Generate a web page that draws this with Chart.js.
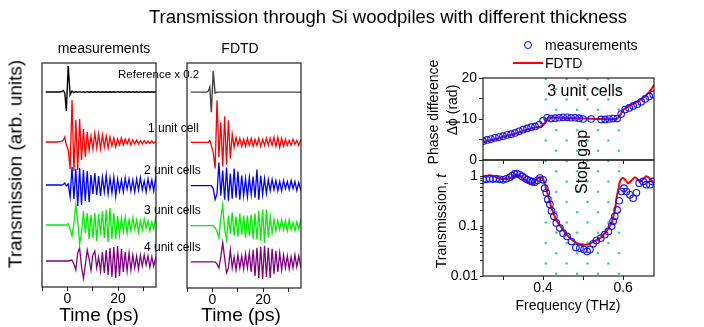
<!DOCTYPE html>
<html><head><meta charset="utf-8">
<script src="https://cdn.jsdelivr.net/npm/chart.js@4.4.1/dist/chart.umd.min.js"></script>
<style>
html,body{margin:0;padding:0;background:#fff;width:704px;height:327px;overflow:hidden;font-family:"Liberation Sans",Arial,sans-serif;}
canvas{position:absolute;left:0;top:0;}
.t{position:absolute;white-space:nowrap;color:#000;line-height:1;z-index:10;}
.c{transform:translate(-50%,-50%);}
.l{transform:translate(0,-50%);}
.r{transform:translate(-50%,-50%) rotate(-90deg);}
</style></head><body>
<div class="t c" style="left:388px;top:17px;font-size:18.5px;">Transmission through Si woodpiles with different thickness</div>
<div class="t c" style="left:104px;top:48px;font-size:14px;">measurements</div>
<div class="t c" style="left:240px;top:48px;font-size:14px;">FDTD</div>
<div class="t r" style="left:15px;top:164px;font-size:19px;">Transmission (arb. units)</div>
<div class="t c" style="left:99px;top:314px;font-size:19px;">Time (ps)</div>
<div class="t c" style="left:241px;top:314px;font-size:19px;">Time (ps)</div>
<div class="t l" style="left:118px;top:75px;font-size:11.5px;">Reference x 0.2</div>
<div class="t l" style="left:148px;top:128px;font-size:12px;">1 unit cell</div>
<div class="t l" style="left:144px;top:170px;font-size:12px;">2 unit cells</div>
<div class="t l" style="left:144px;top:210px;font-size:12px;">3 unit cells</div>
<div class="t l" style="left:144px;top:247px;font-size:12px;">4 unit cells</div>

<div class="t" style="left:524px;top:41px;width:6px;height:6px;border:1.2px solid #0000ff;border-radius:50%;"></div>
<div class="t l" style="left:545px;top:45px;font-size:14px;">measurements</div>
<div class="t" style="left:513px;top:62px;width:30px;height:2px;background:#ff0000;"></div>
<div class="t l" style="left:545px;top:63px;font-size:14px;">FDTD</div>
<div class="t c" style="left:585px;top:91px;font-size:16px;">3 unit cells</div>
<div class="t r" style="left:582px;top:162px;font-size:16px;">Stop gap</div>
<div class="t r" style="left:433px;top:112px;font-size:14px;">Phase difference</div>
<div class="t r" style="left:452px;top:110px;font-size:14px;">&Delta;&#981; (rad)</div>
<div class="t r" style="left:441px;top:221px;font-size:14px;">Transmission, <i>t</i></div>
<div class="t c" style="left:568px;top:305px;font-size:14px;">Frequency (THz)</div>

<script>
// ---------------- time-domain data (arb. units) ----------------
const TIME = [-8.5,-6,-4,-3,-2.2,-1.6,-1.0,
  -0.4,0.35,1.1,1.85,2.6,3.35,4.1,4.85,5.6,6.35,
  7.1,7.85,8.6,9.35,10.1,10.85,11.6,12.35,13.1,13.85,
  14.6,15.35,16.1,16.85,17.6,18.35,19.1,19.85,20.6,21.35,
  22.1,22.85,23.6,24.35,25.1,25.85,26.6,27.35,28.1,28.85,
  29.6,30.35,31.1,31.85,32.6,33.35,34.1,34.85,35.6];
const TRACE_BASE = [195, 145, 102, 62, 26]; // vertical offsets of stacked traces
const TRACE_COLORS = ['#000000', '#ff0000', '#0000ff', '#00ee00', '#800080'];

const MEAS_REF = [0,0,0,0,0.5,1.5,-1,
  -19,26,-3,1,-0.6,0.4,-0.3,0.3,-0.3,0.2,
  -0.3,0.3,-0.2,0.3,-0.2,0.2,-0.3,0.2,-0.2,0.3,
  -0.2,0.2,-0.3,0.2,-0.2,0.2,-0.3,0.3,-0.2,0.2,
  -0.2,0.3,-0.2,0.2,-0.3,0.2,-0.2,0.3,-0.2,0.2,
  -0.3,0.2,-0.2,0.3,-0.2,0.2,-0.3,0.2,0];
const MEAS_1CELL = [0,0,0,0.3,0.5,2,5,
  -3,-8,-27,42,-29,22,-28,23,-18,13,
  -15,10,-8,6,-7,9,-6,8,-7,7,
  -5,6,-6,5,-4,4,-5,3,-3,4,
  -3,3,-2,3,-3,2,-2,2,-2,1.5,
  -2,1.5,-1.5,1,-1.5,1,-1,0.5,0];
const MEAS_2CELL = [0,0,0,0,0,0.5,2,
  -1,1,-12,18,-14,16,-21,17,-20,15,
  -16,14,-17,10,-9,12,-10,9,-11,8,
  -7,10,-9,7,-8,8,-11,6,-6,5,
  -7,7,-4,6,-6,5,-7,6,-5,7,
  -5,4,-7,6,-4,5,-6,7,-4];
const MEAS_3CELL = [0,0,0,0,0,0,0,
  0,1.5,-4,-11,2,20,4,-19,-8,14,
  -8,12,-14,10,-13,12,-16,11,-10,14,
  -13,15,-17,17,-14,12,-14,9,-10,7,
  -6,8,-8,5,-6,7,-4,5,-7,4,
  -5,6,-3,4,-6,3,-4,7,-3];
const MEAS_4CELL = [0,0,0,0,0,0,0,
  0,0,0.5,1,-3,-9,8,13,-6,-17,
  -4,11,2,-9,6,10,-7,4,-10,9,
  -12,11,-14,13,-16,14,-17,15,-15,12,
  -11,9,-10,8,-9,6,-7,5,-8,6,
  -5,6,-4,5,-6,4,-5,3,-2];

const FDTD_REF = [0,0,0,0,0,1,5,
  -20,21,-1,0,0,0,0,0,0,0,
  0,0,0,0,0,0,0,0,0,0,
  0,0,0,0,0,0,0,0,0,0,
  0,0,0,0,0,0,0,0,0,0,
  0,0,0,0,0,0,0,0,0];
const FDTD_1CELL = [0,0,0,0,0,0,2,
  -3,-10,-26,42,-15,20,-24,26,-22,22,
  -16,8,-5,5,-3,4,-4,3,-4,4,
  -3,4,-4,3,-3,4,-4,3,-3,4,
  -3,4,-3,5,-4,5,-5,4,-4,3,
  -3,2,-3,3,-2,2,-3,2,-1];
const FDTD_2CELL = [0,0,0,0,0,0,0,
  0,-3,-14,-8,23,-10,15,-14,18,-15,
  12,-13,17,-12,14,-14,10,-10,7,-11,
  8,-9,9,-12,16,-14,10,-9,7,-8,
  6,-5,6,-4,5,-5,4,-5,5,-3,
  4,-4,5,-3,4,-5,3,-4,2];
const FDTD_3CELL = [0,0,0,0,0,0,0,
  0,0,-2,-6,-12,8,21,-4,-14,10,
  -8,13,-10,9,-11,12,-9,10,-12,10,
  -10,11,-13,12,-14,15,-15,16,-17,16,
  -12,9,-7,6,-5,5,-4,6,-4,5,
  -5,6,-4,3,-5,4,-3,5,-2];
const FDTD_4CELL = [0,0,0,0,0,0,0,
  0,0,0,-2,-6,5,19,4,-11,-6,
  12,-6,5,-8,7,-6,6,-7,8,-6,
  9,-10,12,-14,14,-16,15,-17,16,-15,
  14,-16,13,-12,11,-10,9,-8,7,-6,
  6,-7,5,-6,7,-5,6,-4,3];

const TIME_TICKS = [-10, 0, 10, 20, 30];
const TIME_TICK_LABELS = ['', '0', '', '20', ''];

// ---------------- frequency-domain data ----------------
const PH_MEAS_F = [0.25,0.26,0.27,0.28,0.29,0.30,0.31,0.32,0.33,0.34,0.35,0.36,0.37,0.38,0.39,0.40,0.41,0.42,0.43,0.44,0.45,0.46,0.47,0.48,0.49,0.50,0.52,0.545,0.555,0.565,0.575,0.585,0.595,0.605,0.615,0.625,0.635,0.645,0.655,0.665,0.675];
const PH_MEAS = [4.6,4.9,5.1,5.4,5.6,5.8,6.1,6.3,6.6,7.0,7.4,7.7,8.0,8.2,8.6,9.6,10.3,10.1,10.2,10.3,10.4,10.4,10.3,10.3,10.2,10.0,10.0,9.9,9.9,10.0,10.1,10.1,11.2,12.3,12.7,13.2,13.6,14.2,14.9,15.5,16.0];
const PH_FDTD_F = [0.25,0.27,0.29,0.31,0.33,0.35,0.37,0.385,0.395,0.40,0.405,0.41,0.415,0.43,0.45,0.48,0.51,0.54,0.57,0.585,0.593,0.60,0.612,0.622,0.633,0.642,0.65,0.66,0.668,0.677];
const PH_FDTD = [4.4,4.9,5.4,5.9,6.4,7.1,7.7,8.0,8.2,8.5,9.2,10.0,10.3,10.3,10.3,10.2,10.1,10.0,10.0,10.1,11.0,12.2,13.0,13.5,14.1,14.6,15.2,16.0,16.9,18.3];
const PH_TICKS = [0, 5, 10, 15, 20];
const PH_TICK_LABELS = ['0', '', '10', '', '20'];

const TR_MEAS_F = [0.25,0.258,0.267,0.275,0.283,0.292,0.300,0.308,0.317,0.323,0.329,0.335,0.342,0.348,0.354,0.360,0.367,0.373,0.379,0.386,0.392,0.400,0.404,0.408,0.412,0.417,0.421,0.427,0.433,0.442,0.450,0.460,0.471,0.482,0.492,0.502,0.510,0.517,0.525,0.533,0.544,0.554,0.563,0.571,0.575,0.579,0.585,0.590,0.596,0.602,0.608,0.617,0.625,0.633,0.640,0.650,0.658,0.667,0.673];
const TR_MEAS = [0.84,0.86,0.88,0.87,0.88,0.86,0.84,0.88,0.94,1.02,1.10,1.12,1.06,0.98,0.91,0.85,0.80,0.77,0.75,0.82,0.91,0.84,0.57,0.46,0.34,0.27,0.20,0.156,0.115,0.091,0.072,0.062,0.049,0.037,0.036,0.034,0.031,0.034,0.044,0.051,0.057,0.067,0.078,0.099,0.124,0.156,0.21,0.32,0.49,0.57,0.49,0.42,0.36,0.46,0.72,0.78,0.67,0.67,0.78];
const TR_FDTD_F = [0.25,0.258,0.267,0.280,0.292,0.305,0.317,0.325,0.333,0.342,0.350,0.358,0.367,0.373,0.379,0.386,0.392,0.398,0.404,0.408,0.412,0.417,0.421,0.427,0.433,0.442,0.450,0.458,0.467,0.475,0.483,0.494,0.504,0.515,0.525,0.533,0.542,0.550,0.558,0.565,0.571,0.575,0.579,0.582,0.585,0.589,0.592,0.596,0.600,0.606,0.612,0.620,0.629,0.636,0.642,0.650,0.658,0.667,0.677];
const TR_FDTD = [0.99,1.01,1.03,0.97,0.88,0.87,0.91,0.98,1.06,1.02,0.91,0.80,0.72,0.70,0.78,0.88,0.94,0.90,0.72,0.55,0.42,0.31,0.23,0.17,0.13,0.103,0.084,0.069,0.057,0.051,0.046,0.043,0.042,0.044,0.048,0.052,0.057,0.066,0.078,0.095,0.115,0.15,0.20,0.29,0.42,0.60,0.78,0.88,0.91,0.82,0.72,0.80,0.94,0.86,0.76,0.86,0.99,0.88,0.72];
const TR_MAJOR = [0.01, 0.1, 1];
const FREQ_TICKS = [0.3, 0.4, 0.5, 0.6];
const FREQ_TICK_LABELS = ['', '0.4', '', '0.6'];
const STOP_GAP = [0.4068, 0.5893]; // THz, first/last dotted column

// ---------------- helpers ----------------
const FONT = '"Liberation Sans", Arial, sans-serif';
Chart.defaults.font.family = FONT;
Chart.defaults.color = '#000';
Chart.defaults.animation = false;

function makeCanvas(z) {
  const c = document.createElement('canvas');
  c.width = 704; c.height = 327;
  c.style.zIndex = z;
  document.body.appendChild(c);
  return c.getContext('2d');
}
const boxPlugin = {
  id: 'box',
  afterDatasetsDraw(chart) {
    const a = chart.chartArea, ctx = chart.ctx;
    ctx.save();
    ctx.strokeStyle = '#222';
    ctx.lineWidth = 1.2;
    ctx.strokeRect(a.left, a.top, a.right - a.left, a.bottom - a.top);
    ctx.restore();
  }
};
function wave(vals, base) { return TIME.map((t, i) => ({ x: t, y: base + vals[i] })); }

function timePanel(ctx, series, pad, refColor) {
  const ds = series.map((vals, k) => ({
    data: wave(vals, TRACE_BASE[k]),
    borderColor: k === 0 ? refColor : TRACE_COLORS[k],
    borderWidth: k === 0 ? 1.4 : 1.3,
    pointRadius: 0, tension: 0, fill: false
  }));
  return new Chart(ctx, {
    type: 'line',
    data: { datasets: ds },
    options: {
      responsive: false, animation: false,
      layout: { padding: pad },
      plugins: { legend: { display: false }, tooltip: { enabled: false } },
      scales: {
        x: {
          type: 'linear', min: -10, max: 35,
          afterBuildTicks: s => { s.ticks = TIME_TICKS.map(v => ({ value: v })); },
          afterFit: s => { s.height = 30; },
          ticks: { autoSkip: false, maxRotation: 0, padding: 0, font: { size: 14 }, color: '#000',
            callback: (v) => { const i = TIME_TICKS.indexOf(v); return i >= 0 ? TIME_TICK_LABELS[i] : ''; } },
          grid: { display: true, drawOnChartArea: false, drawTicks: true, tickLength: 4, color: '#222' },
          border: { display: false }
        },
        y: { type: 'linear', min: 0, max: 224, display: false }
      }
    },
    plugins: [boxPlugin]
  });
}

// ---------------- time panels ----------------
timePanel(makeCanvas(1), [MEAS_REF, MEAS_1CELL, MEAS_2CELL, MEAS_3CELL, MEAS_4CELL],
  { left: 42, right: 548, top: 63, bottom: 10 }, '#000000');
timePanel(makeCanvas(1), [FDTD_REF, FDTD_1CELL, FDTD_2CELL, FDTD_3CELL, FDTD_4CELL],
  { left: 187, right: 403, top: 63, bottom: 9 }, '#444444');

// ---------------- phase panel ----------------
const xy = (xs, ys) => xs.map((x, i) => ({ x: x, y: ys[i] }));
const measStyle = { showLine: false, pointRadius: 3.3, pointBorderWidth: 1.1, pointBorderColor: '#1010ff',
  pointBackgroundColor: 'rgba(0,0,0,0)', borderColor: '#1010ff', pointStyle: 'circle' };
const fdtdStyle = { borderColor: '#ff0000', borderWidth: 2, pointRadius: 0, tension: 0.3, fill: false };

const phaseChart = new Chart(makeCanvas(3), {
  type: 'line',
  data: { datasets: [
    Object.assign({ data: xy(PH_MEAS_F, PH_MEAS) }, measStyle),
    Object.assign({ data: xy(PH_FDTD_F, PH_FDTD) }, fdtdStyle)
  ] },
  options: {
    responsive: false, animation: false,
    layout: { padding: { left: 443, right: 50, top: 78, bottom: 167 } },
    plugins: { legend: { display: false }, tooltip: { enabled: false } },
    scales: {
      x: { type: 'linear', min: 0.25, max: 0.677,
        afterBuildTicks: s => { s.ticks = FREQ_TICKS.map(v => ({ value: v })); },
        afterFit: s => { s.height = 0; },
        ticks: { display: false },
        grid: { display: true, drawOnChartArea: false, drawTicks: true, tickLength: 4, color: '#222' },
        border: { display: false } },
      y: { type: 'linear', min: 0, max: 20,
        afterBuildTicks: s => { s.ticks = PH_TICKS.map(v => ({ value: v })); },
        afterFit: s => { s.width = 40; },
        ticks: { padding: 2, font: { size: 14 }, color: '#000',
          callback: v => { const i = PH_TICKS.indexOf(v); return i >= 0 ? PH_TICK_LABELS[i] : ''; } },
        grid: { display: true, drawOnChartArea: false, drawTicks: true, tickLength: 4, color: '#222' },
        border: { display: false } }
    }
  },
  plugins: [boxPlugin]
});

// ---------------- transmission panel ----------------
const dotPlugin = {
  id: 'dots',
  beforeDatasetsDraw(chart) {
    const xs = chart.scales.x, ctx = chart.ctx;
    const top = phaseChart.chartArea.top + 1, bottom = chart.chartArea.bottom - 1;
    const x0 = xs.getPixelForValue(STOP_GAP[0]), x1 = xs.getPixelForValue(STOP_GAP[1]);
    const ncol = 8, dx = (x1 - x0) / (ncol - 1), dy = 10.25;
    ctx.save();
    ctx.fillStyle = 'rgba(40,200,165,0.9)';
    let row = 0;
    for (let y = top; y <= bottom; y += dy, row++) {
      for (let c = row % 2; c < ncol; c += 2) {
        ctx.beginPath();
        ctx.arc(x0 + c * dx, y, 1.3, 0, Math.PI * 2);
        ctx.fill();
      }
    }
    ctx.restore();
  }
};
const trTicks = [];
TR_MAJOR.forEach(m => { for (let k = 1; k <= 9; k++) { const v = +(m * k).toPrecision(2); if (v <= 2) trTicks.push(v); } });

new Chart(makeCanvas(2), {
  type: 'line',
  data: { datasets: [
    Object.assign({ data: xy(TR_MEAS_F, TR_MEAS) }, measStyle),
    Object.assign({ data: xy(TR_FDTD_F, TR_FDTD) }, fdtdStyle)
  ] },
  options: {
    responsive: false, animation: false,
    layout: { padding: { left: 443, right: 50, top: 160, bottom: 21 } },
    plugins: { legend: { display: false }, tooltip: { enabled: false } },
    scales: {
      x: { type: 'linear', min: 0.25, max: 0.677,
        afterBuildTicks: s => { s.ticks = FREQ_TICKS.map(v => ({ value: v })); },
        afterFit: s => { s.height = 30; },
        ticks: { autoSkip: false, maxRotation: 0, padding: 0, font: { size: 14 }, color: '#000',
          callback: v => { const i = FREQ_TICKS.indexOf(v); return i >= 0 ? FREQ_TICK_LABELS[i] : ''; } },
        grid: { display: true, drawOnChartArea: false, drawTicks: true, tickLength: 4, color: '#222' },
        border: { display: false } },
      y: { type: 'logarithmic', min: 0.01, max: 2.09,
        afterBuildTicks: s => { s.ticks = trTicks.map(v => ({ value: v })); },
        afterFit: s => { s.width = 40; },
        ticks: { autoSkip: false, padding: 2, font: { size: 14 }, color: '#000',
          callback: v => (TR_MAJOR.indexOf(v) >= 0 ? String(v) : '') },
        grid: { display: true, drawOnChartArea: false, drawTicks: true, tickLength: 3, color: '#222' },
        border: { display: false } }
    }
  },
  plugins: [dotPlugin, boxPlugin]
});
</script>
</body></html>
